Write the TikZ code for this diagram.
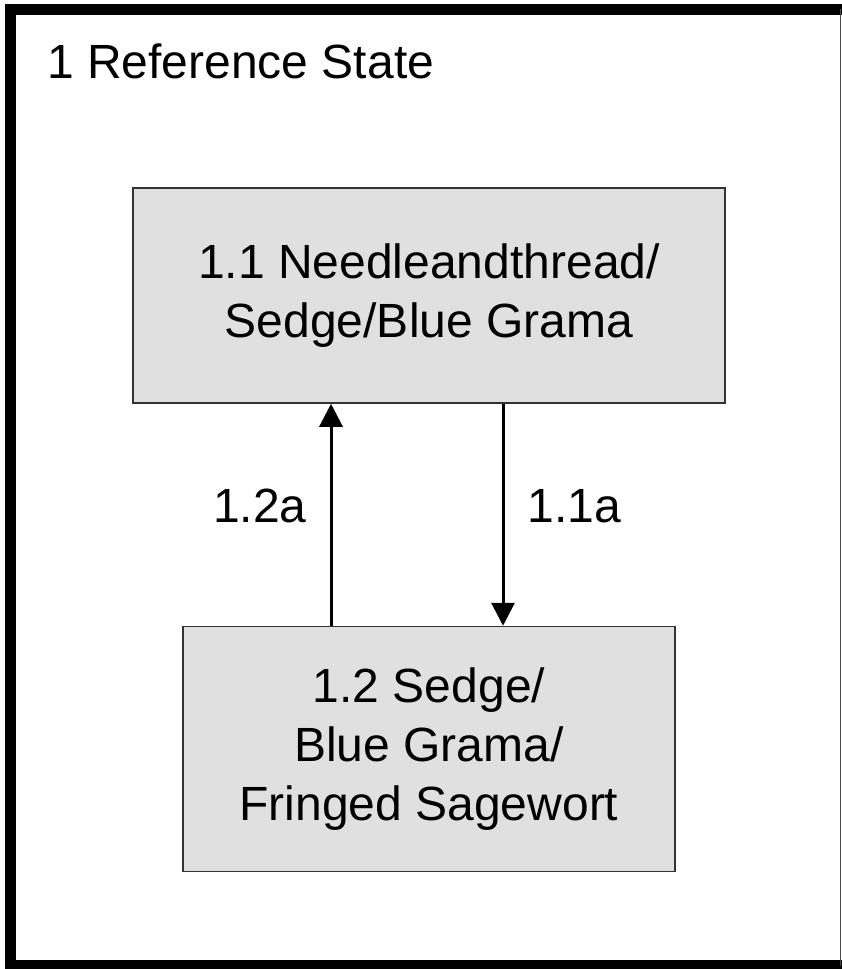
\documentclass[tikz,border=0pt]{standalone}
\usepackage{fontspec}
\setmainfont{Liberation Sans}
\usepackage{tikz}
\usetikzlibrary{arrows.meta, positioning, calc}
\tikzset{
    base/.style={draw=black!80, line width=1.5pt, font=\fontsize{48}{59}\selectfont, align=center, inner sep=0pt},
    block/.style={base, rectangle, fill=gray!24},
    label/.style={font=\fontsize{48}{59}\selectfont, inner sep=0pt},
    line/.style={draw=black, line width=3pt, -{Triangle[length=23pt, width=23pt]}}
}
\begin{document}
\begin{tikzpicture}[x=1pt, y=-1pt]
    \useasboundingbox (0,0) rectangle (842,969);
    % outer frame
    \draw [line width=11pt] (842,9) -- (10.5,9) -- (10.5,965.5) -- (842,965.5);
    \draw [line width=1pt, black!70] (840.5,9) -- (840.5,965.5);
    \node [label, anchor=base west] (Title) at (47,78) {1 Reference State};

    \node [block, minimum width=592pt, minimum height=215pt] (Needle) at (429,295.5) {1.1 Needleandthread/\\Sedge/Blue Grama};
    \node [block, minimum width=492pt, minimum height=245pt, below=222pt of Needle] (Sedge) {1.2 Sedge/\\Blue Grama/\\Fringed Sagewort};

    \draw [line] ([xshift=-98pt]Sedge.north) -- node [label, pos=0.54, left=23pt] {1.2a} ([xshift=-98pt]Sedge.north |- Needle.south);
    \draw [line] ([xshift=74pt]Needle.south) -- node [label, pos=0.46, right=23pt] {1.1a} ([xshift=74pt]Needle.south |- Sedge.north);
\end{tikzpicture}
\end{document}
